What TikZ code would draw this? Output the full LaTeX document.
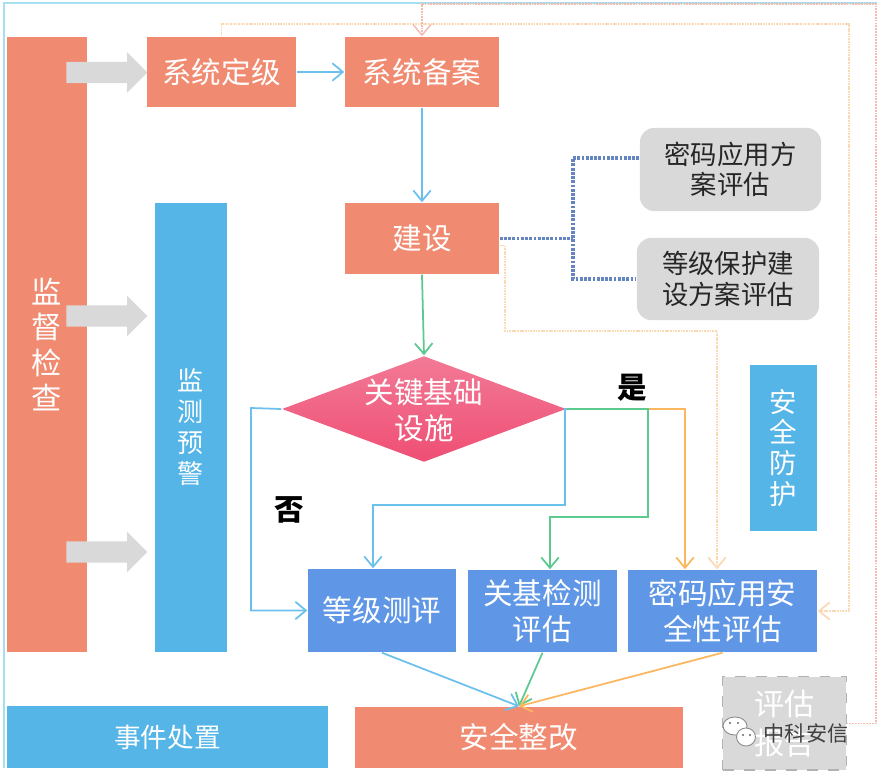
\documentclass[tikz,border=0pt]{standalone}
\usepackage{fontspec}
\setmainfont{Noto Sans CJK SC}
\usetikzlibrary{arrows.meta,shapes.geometric,shapes.arrows}
\definecolor{salmon}{HTML}{F08A70}
\definecolor{skyblue}{HTML}{56B5E7}
\definecolor{skyline}{HTML}{6CC1EC}
\definecolor{boxblue}{HTML}{5F97E6}
\definecolor{softgrey}{HTML}{D9D9D9}
\definecolor{linegreen}{HTML}{5CC98F}
\definecolor{lineorange}{HTML}{FBB760}
\definecolor{paleorange}{HTML}{FBD9B5}
\definecolor{palered}{HTML}{F6B9AE}
\definecolor{hubblue}{HTML}{6485C2}
\definecolor{framecyan}{HTML}{A6E0F0}
\definecolor{diamondtop}{HTML}{F27A96}
\definecolor{diamondlow}{HTML}{EF4E74}
\tikzset{
	>={Straight Barb[length=3pt,width=5pt]},
	block/.style={inner sep=0pt,text=white,align=center,font=\fontsize{8.4}{10.2}\selectfont},
	salmonbox/.style={block,fill=salmon},
	skybox/.style={block,fill=skyblue},
	bluebox/.style={block,fill=boxblue},
	greybox/.style={inner sep=0pt,fill=softgrey,rounded corners=.14cm,text=black!85,align=center,font=\fontsize{7.5}{8.6}\selectfont},
	greyarrow/.style={single arrow,fill=softgrey,inner sep=0pt,minimum height=.81cm,minimum width=.39cm,single arrow head extend=.095cm},
	bluearrow/.style={->,skyline,line width=.5pt},
	greenarrow/.style={->,linegreen,line width=.5pt},
	orangearrow/.style={->,lineorange,line width=.5pt},
	dotorange/.style={->,paleorange,line width=.5pt,dash pattern=on .5pt off .25pt},
	dotred/.style={->,palered,line width=.4pt,dash pattern=on .5pt off .3pt},
	hubline/.style={hubblue,line width=.9pt,dash pattern=on .8pt off .4pt}
}
\begin{document}
\begin{tikzpicture}[x=.01cm,y=-.01cm]
	\useasboundingbox (0,0) rectangle (884,779);
	\draw[framecyan,line width=.3pt] (4,768) -- (4,3) -- (877,3);

	\node[salmonbox,minimum width=.8cm,minimum height=6.15cm,font=\fontsize{8.6}{10}\selectfont] (jiandu) at (47,344.5) {监\\督\\检\\查};
	\node[skybox,minimum width=.72cm,minimum height=4.49cm,font=\fontsize{7.4}{8.8}\selectfont] (jiance) at (191,427.5) {监\\测\\预\\警};
	\node[skybox,minimum width=.67cm,minimum height=1.66cm,font=\fontsize{7.8}{8.8}\selectfont] (fanghu) at (783.5,448) {安\\全\\防\\护};
	\node[greyarrow] (jt1) at (101.5,72.5) {\rule{0pt}{.2cm}};
	\node[greyarrow] (jt2) at (101.5,316) {\rule{0pt}{.2cm}};
	\node[greyarrow] (jt3) at (101.5,552) {\rule{0pt}{.2cm}};

	\node[salmonbox,minimum width=1.49cm,minimum height=.7cm] (dingji) at (221.5,72) {系统定级};
	\node[salmonbox,minimum width=1.54cm,minimum height=.7cm] (beian) at (422,72) {系统备案};
	\node[salmonbox,minimum width=1.54cm,minimum height=.71cm] (jianshe) at (422,238.5) {建设};
	\node[greybox,minimum width=1.81cm,minimum height=.83cm] (fangan) at (730.5,169.5) {密码应用方\\案评估};
	\node[greybox,minimum width=1.82cm,minimum height=.82cm] (baohu) at (728,279) {等级保护建\\设方案评估};
	\coordinate (hub) at (573,238.5);

	\node[diamond,top color=diamondtop,bottom color=diamondlow,minimum width=2.84cm,minimum height=1.06cm,inner sep=0pt,aspect=2.68] (guanjian) at (424,409) {};
	\node[block] (guanjiantxt) at (424,410) {关键基础\\设施};
	\node[font=\fontsize{8.4}{10}\selectfont\bfseries,inner sep=0pt] (shi) at (632,388) {是};
	\node[font=\fontsize{8.4}{10}\selectfont\bfseries,inner sep=0pt] (fou) at (289,510) {否};

	\node[bluebox,minimum width=1.48cm,minimum height=.83cm] (cepingbox) at (382,610.5) {等级测评};
	\node[bluebox,minimum width=1.49cm,minimum height=.82cm] (jiance2) at (542.5,611) {关基检测\\评估};
	\node[bluebox,minimum width=1.89cm,minimum height=.82cm] (mima) at (722.5,611) {密码应用安\\全性评估};
	\node[skybox,minimum width=3.21cm,minimum height=.62cm,font=\fontsize{7.6}{9}\selectfont] (shijian) at (167.5,737) {事件处置};
	\node[salmonbox,minimum width=3.28cm,minimum height=.61cm] (zhenggai) at (519,737.5) {安全整改};
	\node[inner sep=0pt,fill=softgrey,draw=black!30,dashed,line width=.3pt,minimum width=1.23cm,minimum height=.93cm,text=white,align=center,font=\fontsize{8.6}{11.2}\selectfont] (baogao) at (784.5,723.5) {评估\\报告};

	\draw[bluearrow] (dingji) -- (beian);
	\draw[bluearrow] (beian) -- (jianshe);
	\draw[greenarrow] (jianshe.south) -- (guanjian.north);

	\draw[hubline] (jianshe.east) -- (hub);
	\draw[hubline] ([yshift=.115cm]fangan.west) -| (hub) |- (baohu.west);

	\coordinate (fouzhe) at (251,408);
	\coordinate (lanzhe) at (373,505);
	\coordinate (lvzhe) at (648,517);
	\draw[bluearrow] (guanjian.west) -- (fouzhe) |- (cepingbox.west);
	\draw[bluearrow] (guanjian.east) -| (565,505) -- (lanzhe) -- ([xshift=-.09cm]cepingbox.north);
	\draw[orangearrow] (guanjian.east) -| ([xshift=-.375cm]mima.north);
	\draw[greenarrow] (guanjian.east) -| (lvzhe) -| ([xshift=.075cm]jiance2.north);

	\coordinate (yuzhe) at (505,331);
	\coordinate (dingzhe) at (849,24);
	\coordinate (hongzhe) at (876,4);
	\draw[dotorange] ([yshift=-.07cm]jianshe.east) -| (yuzhe) -| ([xshift=-.055cm]mima.north);
	\draw[dotorange] (dingji.north) |- (dingzhe) |- (mima.east);
	\draw[dotred] (baogao.east) -| (hongzhe) -| (beian.north);

	\draw[bluearrow] (cepingbox.south) -- (zhenggai.north);
	\draw[greenarrow] (jiance2.south) -- (zhenggai.north);
	\draw[orangearrow] (mima.south) -- (zhenggai.north);

	% wechat mark
	\filldraw[fill=white,draw=black!45,line width=.25pt] (735,726) ellipse (12 and 9);
	\filldraw[fill=white,draw=black!45,line width=.25pt] (746,737) ellipse (9.5 and 9);
	\fill[black!60] (730,723) circle (1.2) (738,723) circle (1.2) (743,735) circle (1.2) (750,735) circle (1.2);
	\node[text=black!75,font=\fontsize{6}{7}\selectfont,inner sep=0pt] (zhongke) at (806,733) {中科安信};
\end{tikzpicture}
\end{document}
